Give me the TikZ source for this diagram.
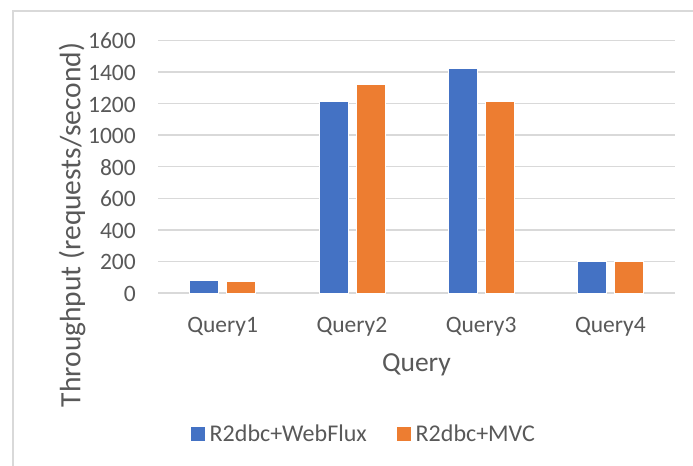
\documentclass[tikz,border=0pt]{standalone}
\usepackage{fontspec}
\setmainfont{Carlito}
\definecolor{gridgray}{HTML}{D9D9D9}
\definecolor{txtgray}{HTML}{595959}
\definecolor{serA}{HTML}{4472C4}
\definecolor{serB}{HTML}{ED7D31}
\begin{document}
\begin{tikzpicture}[x=1bp,y=-1bp,
  ticklbl/.style={text=txtgray,inner sep=0pt,font=\fontsize{23.5bp}{28bp}\selectfont},
  keylbl/.style={text=txtgray,inner sep=0pt,font=\fontsize{24bp}{28bp}\selectfont},
  axtitle/.style={text=txtgray,inner sep=0pt,font=\fontsize{27.5bp}{32bp}\selectfont},
  ytitlefont/.style={text=txtgray,inner sep=0pt,font=\fontsize{29.5bp}{34bp}\selectfont},
  gridline/.style={draw=gridgray,line width=1.5bp},
  barA/.style={fill=serA,draw=white,line width=0.6bp},
  barB/.style={fill=serB,draw=white,line width=0.6bp},
  keybox/.style={inner sep=0pt,minimum size=14bp}]
\useasboundingbox (0,0) rectangle (693,466);
\fill[white] (0,0) rectangle (693,466);
% chart frame
\draw[gridgray,line width=2bp] (13,466) -- (13,11) -- (693,11);
% horizontal grid and value labels
\foreach \v in {0,200,...,1600}{
  \pgfmathsetmacro{\yy}{293-\v*0.157875}
  \draw[gridline] (158,\yy) -- (675,\yy);
  \node[ticklbl,anchor=base east] (tick\v) at (136,\yy+8.5) {\v};
}
% bars: category, first series, second series
\foreach \i/\a/\b in {0/80/76,1/1217/1323,2/1422/1217,3/198/202}{
  \pgfmathsetmacro{\c}{158+129.25*(\i+0.5)}
  \pgfmathsetmacro{\ya}{293-\a*0.157875}
  \pgfmathsetmacro{\yb}{293-\b*0.157875}
  \path[barA] (\c-33,293) rectangle (\c-4,\ya);
  \path[barB] (\c+4,293) rectangle (\c+33,\yb);
  \pgfmathtruncatemacro{\n}{\i+1}
  \node[ticklbl,anchor=base] (cat\n) at (\c,333) {Query\n};
}
% axis titles
\node[axtitle,anchor=base] (xtitle) at (416.5,371) {Query};
\node[ytitlefont,rotate=90] (ytitle) at (72,225) {Throughput (requests/second)};
% legend
\node[keybox,fill=serA,anchor=north west] (keyA) at (191,427) {};
\node[keylbl,anchor=base west] (lblA) at (209.5,441) {R2dbc+WebFlux};
\node[keybox,fill=serB,anchor=north west] (keyB) at (397,427) {};
\node[keylbl,anchor=base west] (lblB) at (415.5,441) {R2dbc+MVC};
\end{tikzpicture}
\end{document}
